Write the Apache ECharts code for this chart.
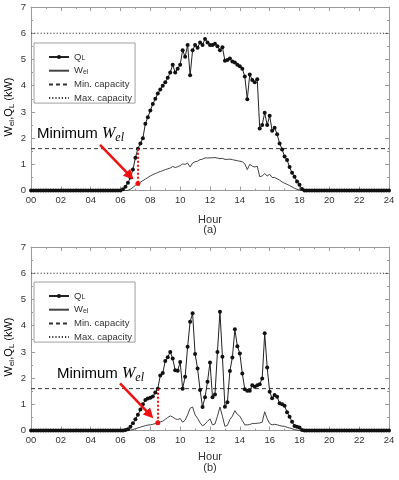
<!DOCTYPE html>
<html><head><meta charset="utf-8">
<script src="https://cdn.jsdelivr.net/npm/echarts@6/dist/echarts.min.js"></script>
<style>html,body{margin:0;padding:0;background:#fff}#c{width:399px;height:480px}</style>
</head><body><div id="c"></div>
<script>
// 10-minute samples from 00:00 to 24:00 (145 samples)
const sampleStepHours = 1 / 6;
const hourTicks = ['00','02','04','06','08','10','12','14','16','18','20','22','24'];

const qlA = [
0,0,0,0,0,0,0,0,0,0, 0,0,0,0,0,0,0,0,0,0, 0,0,0,0,0,0,0,0,0,0, 0,0,0,0,0,0,0,
0.05,0.15,0.3,0.5,0.8,1.25,1.6,1.8,2.0,2.55,2.8,
3.05,3.3,3.5,3.7,3.85,4.0,
4.13,4.3,4.5,4.8,4.5,4.65,
4.8,5.35,5.1,5.55,4.4,5.35,
5.55,5.45,5.65,5.55,5.78,5.65,
5.55,5.55,5.6,5.5,5.35,5.47,
4.95,4.98,5.04,4.92,4.88,4.8,
4.74,4.65,4.35,3.48,4.43,4.22,
4.13,4.25,2.37,2.5,2.97,2.5,
2.85,2.28,2.4,2.15,1.8,1.57,
1.3,1.17,0.9,0.68,0.53,0.35,
0.22,0.06,
0,0,0,0,0,0,0,0,0,0, 0,0,0,0,0,0,0,0,0,0, 0,0,0,0,0,0,0,0,0,0, 0,0,0,0,0
];
const welA = [
0,0,0,0,0,0,0,0,0,0, 0,0,0,0,0,0,0,0,0,0, 0,0,0,0,0,0,0,0,0,0, 0,0,0,0,0,0,0,0,0,
0.01,0.05,0.12,0.2,0.27,0.32,0.38,0.44,0.5,
0.56,0.61,0.65,0.69,0.73,0.76,
0.8,0.83,0.86,0.92,0.88,0.91,
0.95,1.02,1.0,1.05,0.9,1.05,
1.1,1.12,1.18,1.2,1.25,1.24,
1.25,1.25,1.26,1.24,1.22,1.23,
1.19,1.19,1.2,1.18,1.16,1.14,
1.12,1.1,1.02,0.8,1.0,0.93,
0.9,0.93,0.53,0.56,0.65,0.56,
0.62,0.5,0.5,0.45,0.4,0.33,
0.28,0.24,0.19,0.14,0.09,0.05,
0.02,
0,0,0,0,0,0,0,0,0,0, 0,0,0,0,0,0,0,0,0,0, 0,0,0,0,0,0,0,0,0,0, 0,0,0,0,0,0
];
const qlB = [
0,0,0,0,0,0,0,0,0,0, 0,0,0,0,0,0,0,0,0,0, 0,0,0,0,0,0,0,0,0,0, 0,0,0,0,0,0,0,0,
0.02,0.05,0.15,0.28,0.43,0.6,0.8,1.0,1.17,1.22,
1.25,1.3,1.45,1.6,2.1,2.2,
2.65,2.8,3.0,2.75,2.3,2.28,
2.62,1.6,2.05,3.2,4.15,4.47,
2.92,2.37,1.55,0.9,1.27,1.86,
2.6,1.27,1.38,3.0,4.53,2.82,
0.91,1.08,2.27,2.79,3.86,3.22,
2.94,2.18,1.58,1.52,1.52,1.73,
1.67,1.73,1.77,1.99,3.71,2.41,
1.48,1.23,1.36,1.29,1.04,1.0,
0.95,0.7,0.53,0.34,0.18,0.15,
0.12,0.02,
0,0,0,0,0,0,0,0,0,0, 0,0,0,0,0,0,0,0,0,0, 0,0,0,0,0,0,0,0,0,0, 0,0,0,0,0
];
const welB = [
0,0,0,0,0,0,0,0,0,0, 0,0,0,0,0,0,0,0,0,0, 0,0,0,0,0,0,0,0,0,0, 0,0,0,0,0,0,0,0,0,0,
0.02,0.04,0.07,0.1,0.13,0.16,0.19,0.21,
0.22,0.24,0.27,0.3,0.33,0.36,
0.43,0.5,0.56,0.52,0.45,0.42,
0.46,0.32,0.4,0.6,0.85,0.9,
0.6,0.47,0.3,0.18,0.25,0.35,
0.45,0.22,0.25,0.55,0.9,0.55,
0.16,0.2,0.42,0.55,0.76,0.62,
0.55,0.38,0.22,0.22,0.23,0.27,
0.27,0.28,0.29,0.32,0.72,0.45,
0.27,0.22,0.24,0.22,0.19,0.17,
0.16,0.13,0.1,0.07,0.04,0.02,
0,0,0,0,0,0,0,0,0,0, 0,0,0,0,0,0,0,0,0,0, 0,0,0,0,0,0,0,0,0,0, 0,0,0,0,0,0,0
];
const minCapacity = 1.6;
const maxCapacity = 6;
// sample index of the "Minimum W_el" point in each panel
const minIndexA = 43;
const minIndexB = 51;
// annotation arrows (data coordinates: hour, kW)
const arrowA = { from: [4.63, 1.74], to: [6.64, 0.56] };
const arrowB = { from: [5.97, 1.80], to: [7.97, 0.61] };

const chart = echarts.init(document.getElementById('c'), null, { renderer: 'canvas' });
const FONT = 'Liberation Sans';
const AXC = '#9a9a9a';
const TXT = '#333';

const toPairs = arr => arr.map((v, i) => [i * sampleStepHours, v]);

function axesFor(gi, hourGap) {
  const tickBase = { show: true, inside: true, length: 4, lineStyle: { color: AXC } };
  const minor = { show: true, splitNumber: 2, length: 2, lineStyle: { color: AXC } };
  return {
    x: [
      { type: 'value', gridIndex: gi, min: 0, max: 24, interval: 2, position: 'bottom',
        axisLine: { show: true, onZero: false, lineStyle: { color: AXC } },
        axisTick: tickBase, minorTick: minor, splitLine: { show: false },
        axisLabel: { color: TXT, fontFamily: FONT, fontSize: 9.5, margin: 5,
          formatter: v => hourTicks[Math.round(v / 2)] },
        name: 'Hour', nameLocation: 'middle', nameGap: hourGap,
        nameTextStyle: { color: TXT, fontFamily: FONT, fontSize: 11 } },
      { type: 'value', gridIndex: gi, min: 0, max: 24, interval: 2, position: 'top',
        axisLine: { show: true, onZero: false, lineStyle: { color: AXC } },
        axisTick: tickBase, minorTick: minor, splitLine: { show: false },
        axisLabel: { show: false } }
    ],
    y: [
      { type: 'value', gridIndex: gi, min: 0, max: 7, interval: 1, position: 'left',
        axisLine: { show: true, onZero: false, lineStyle: { color: AXC } },
        axisTick: tickBase, minorTick: minor, splitLine: { show: false },
        axisLabel: { color: TXT, fontFamily: FONT, fontSize: 9.5, margin: 5 } },
      { type: 'value', gridIndex: gi, min: 0, max: 7, interval: 1, position: 'right',
        axisLine: { show: true, onZero: false, lineStyle: { color: AXC } },
        axisTick: tickBase, minorTick: minor, splitLine: { show: false },
        axisLabel: { show: false } }
    ]
  };
}

function seriesFor(gi, ql, wel, idx, arrow) {
  const xi = gi * 2, yi = gi * 2;
  const h = idx * sampleStepHours;
  return [
    { name: 'Q_L', type: 'line', xAxisIndex: xi, yAxisIndex: yi, data: toPairs(ql),
      symbol: 'circle', symbolSize: 4, showSymbol: true, showAllSymbol: true,
      lineStyle: { color: '#222', width: 1 }, itemStyle: { color: '#111' }, z: 3 },
    { name: 'W_el', type: 'line', xAxisIndex: xi, yAxisIndex: yi, data: toPairs(wel),
      symbol: 'none', lineStyle: { color: '#444', width: 1 }, itemStyle: { color: '#444' }, z: 2,
      markLine: { silent: true, animation: false, label: { show: false }, symbol: ['none', 'none'],
        emphasis: { disabled: true },
        data: [
          [ { coord: arrow.from, symbol: 'none', lineStyle: { color: '#f01010', width: 2.5, type: 'solid' } },
            { coord: arrow.to, symbol: 'triangle', symbolSize: 10 } ],
          [ { coord: [h, ql[idx]], symbol: 'none', lineStyle: { color: '#f01010', width: 2, type: [2, 2] } },
            { coord: [h, wel[idx]], symbol: 'none' } ]
        ] },
      markPoint: { silent: true, animation: false, symbol: 'circle', symbolSize: 5,
        itemStyle: { color: '#f01010' }, label: { show: false },
        data: [ { coord: [h, wel[idx]] } ] } },
    { name: 'Min. capacity', type: 'line', xAxisIndex: xi, yAxisIndex: yi,
      data: [[0, minCapacity], [24, minCapacity]], symbol: 'none',
      lineStyle: { color: '#333', width: 1, type: [4, 3] }, itemStyle: { color: '#333' }, z: 1 },
    { name: 'Max. capacity', type: 'line', xAxisIndex: xi, yAxisIndex: yi,
      data: [[0, maxCapacity], [24, maxCapacity]], symbol: 'none',
      lineStyle: { color: '#333', width: 1, type: [1.2, 2] }, itemStyle: { color: '#333' }, z: 1 }
  ];
}

const legendRich = {
  m: { fontFamily: FONT, fontSize: 9.5, color: TXT, lineHeight: 10 },
  s: { fontFamily: FONT, fontSize: 7, color: TXT, lineHeight: 4, verticalAlign: 'bottom' }
};
const legendFormatter = n => n === 'Q_L' ? '{m|Q}{s|L}' : n === 'W_el' ? '{m|W}{s|el}' : '{m|' + n + '}';
function legendFor(top) {
  const hidden = { opacity: 0 };
  return { orient: 'vertical', left: 34, top: top, itemWidth: 20, itemHeight: 5, itemGap: 3.7,
    padding: [9, 3, 0, 14], borderColor: '#a0a0a0', borderWidth: 1, backgroundColor: '#fff',
    selectedMode: false,
    data: [
      { name: 'Q_L' },
      { name: 'W_el', itemStyle: hidden },
      { name: 'Min. capacity', itemStyle: hidden },
      { name: 'Max. capacity', itemStyle: hidden }
    ],
    formatter: legendFormatter, textStyle: { rich: legendRich, color: TXT } };
}

const axA = axesFor(0, 24), axB = axesFor(1, 21);

function yTitle(cy) {
  return { type: 'text', x: 9, y: cy, rotation: Math.PI / 2, silent: true,
    style: { text: '{m|W}{s|el}{m|,Q}{s|L}{m| (kW)}', align: 'center', verticalAlign: 'middle',
      rich: { m: { fontFamily: FONT, fontSize: 11, color: TXT, lineHeight: 14 },
              s: { fontFamily: FONT, fontSize: 8, color: TXT, lineHeight: 7, verticalAlign: 'bottom' } } } };
}
function minText(x, cy) {
  return { type: 'text', x: x, y: cy, silent: true,
    style: { text: '{a|Minimum }{w|W}{e|el}', align: 'left', verticalAlign: 'middle',
      rich: { a: { fontFamily: FONT, fontSize: 15, color: '#111', lineHeight: 20 },
              w: { fontFamily: 'Liberation Serif', fontStyle: 'italic', fontSize: 16, color: '#111', lineHeight: 20 },
              e: { fontFamily: 'Liberation Serif', fontStyle: 'italic', fontSize: 12, color: '#111', lineHeight: 10, verticalAlign: 'bottom' } } } };
}
function panelLabel(t, cy) {
  return { type: 'text', x: 210, y: cy, silent: true,
    style: { text: t, align: 'center', verticalAlign: 'middle', fontFamily: FONT, fontSize: 11, fill: TXT } };
}

chart.setOption({
  animation: false,
  backgroundColor: '#fff',
  grid: [
    { left: 31, right: 10, top: 7, height: 183.6, show: false },
    { left: 31, right: 10, top: 247, height: 183.6, show: false }
  ],
  xAxis: [...axA.x, ...axB.x],
  yAxis: [...axA.y, ...axB.y],
  legend: [legendFor(43), legendFor(282)],
  series: [
    ...seriesFor(0, qlA, welA, minIndexA, arrowA),
    ...seriesFor(1, qlB, welB, minIndexB, arrowB)
  ],
  graphic: [
    yTitle(107), yTitle(347),
    minText(37, 134), minText(57, 374),
    panelLabel('(a)', 230), panelLabel('(b)', 468)
  ]
});
</script></body></html>
